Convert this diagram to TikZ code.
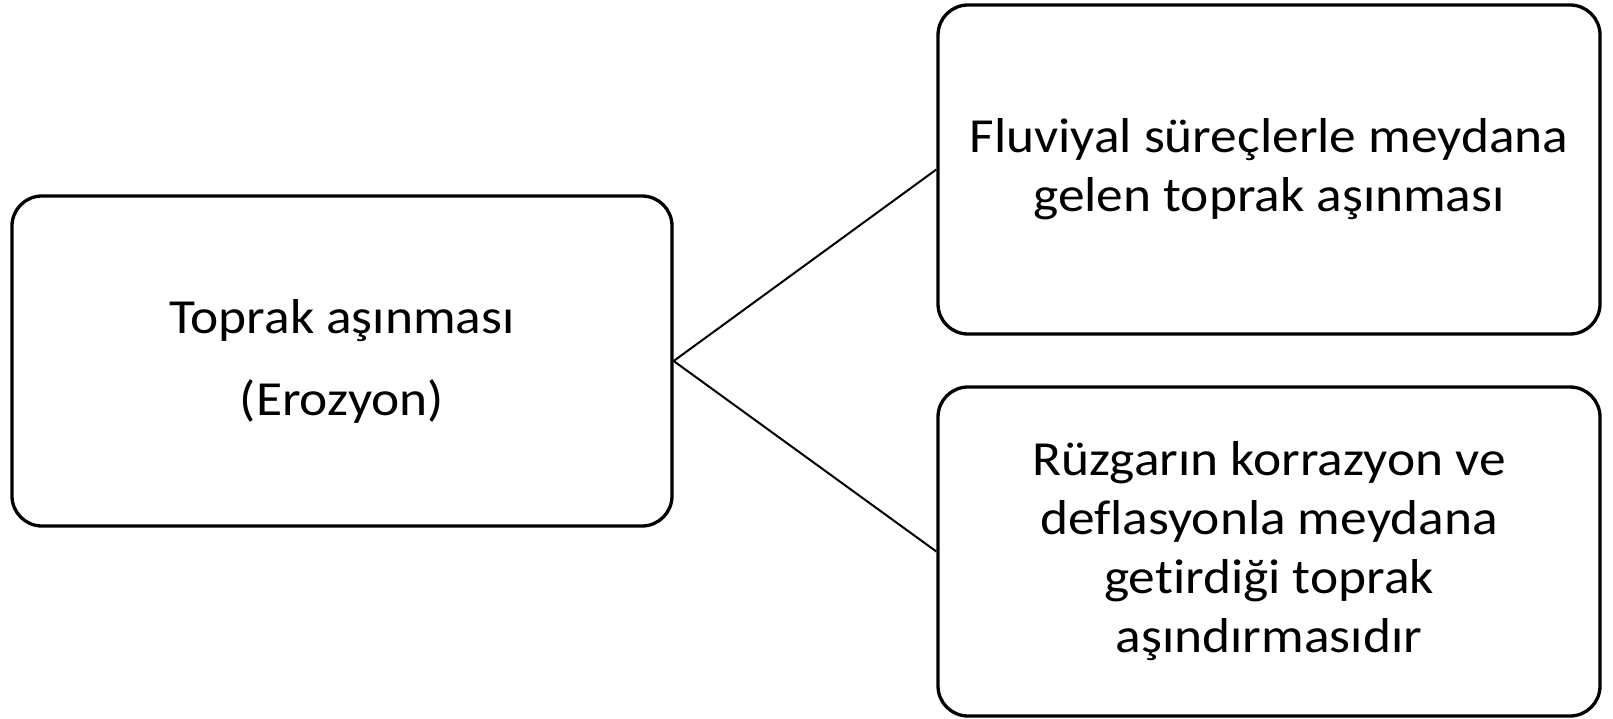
\documentclass[tikz,border=0pt]{standalone}
\usepackage{fontspec}
\setmainfont{Carlito}[FakeStretch=1.09,Ligatures=CommonOff]
\begin{document}
\begin{tikzpicture}[x=1pt,y=-1pt,
  box/.style={draw=black,line width=3.3pt,rounded corners=30pt,rectangle,align=center,inner sep=0pt,font=\fontsize{49}{59}\selectfont},
  conn/.style={draw=black,line width=2pt}]
\useasboundingbox (0,0) rectangle (1613,719);
\node[box,minimum width=660pt,minimum height=330pt,font=\fontsize{49}{82}\selectfont] (src) at (342,361) {Toprak aşınması\\(Erozyon)};
\node[box,minimum width=662pt,minimum height=329pt] (fl) at (1269,169.5) {Fluviyal süreçlerle meydana\\gelen toprak aşınması};
\node[box,minimum width=662pt,minimum height=329pt] (rz) at (1269,551.5) {Rüzgarın korrazyon ve\\deflasyonla meydana\\getirdiği toprak\\aşındırmasıdır};
\draw[conn] (src.east) -- (fl.west);
\draw[conn] (src.east) -- (rz.west);
\end{tikzpicture}
\end{document}
